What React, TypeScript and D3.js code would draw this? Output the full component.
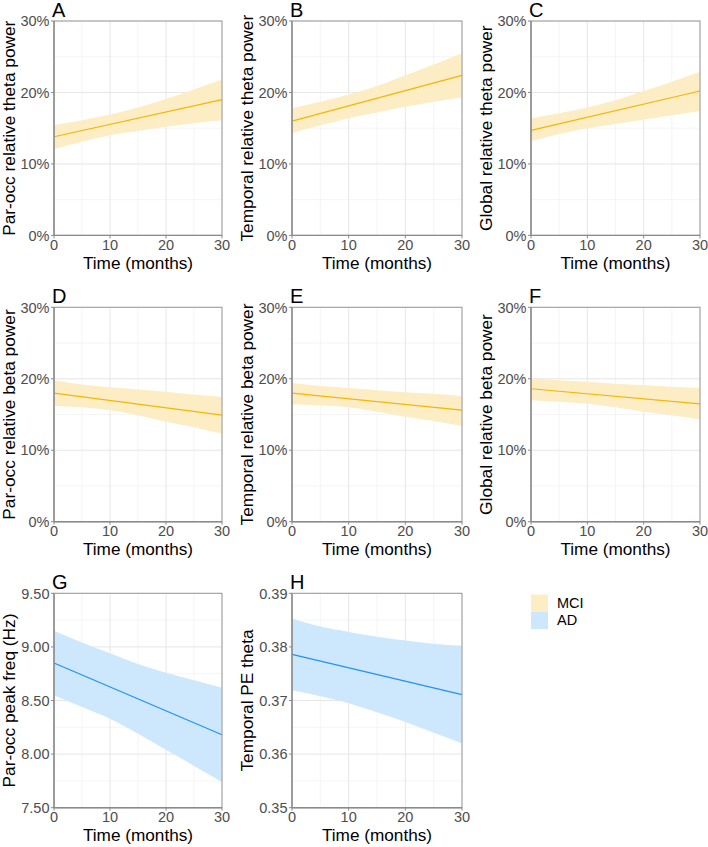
import React from "react";
import * as d3 from "d3";

// ---------- data ----------
const times = [0, 5, 10, 15, 20, 25, 30];
const panelLabels = ["A", "B", "C", "D", "E", "F", "G", "H"];
const yTitles = [
  "Par-occ relative theta power",
  "Temporal relative theta power",
  "Global relative theta power",
  "Par-occ relative beta power",
  "Temporal relative beta power",
  "Global relative beta power",
  "Par-occ peak freq (Hz)",
  "Temporal PE theta",
];
const groups = ["MCI", "MCI", "MCI", "MCI", "MCI", "MCI", "AD", "AD"];
const fitAt0 = [13.8, 16.0, 14.7, 18.0, 18.0, 18.6, 8.85, 0.3786];
const fitAt30 = [19.0, 22.4, 20.2, 14.9, 15.6, 16.5, 8.18, 0.3711];
const bandLower = [
  [12.1, 13.1, 14.0, 14.6, 15.2, 15.7, 16.1],
  [14.3, 15.4, 16.4, 17.2, 18.0, 18.7, 19.3],
  [13.2, 14.2, 15.0, 15.6, 16.2, 16.8, 17.4],
  [16.2, 16.0, 15.6, 14.9, 14.0, 13.2, 12.3],
  [16.4, 16.3, 16.0, 15.4, 14.7, 14.1, 13.4],
  [17.0, 16.8, 16.5, 16.0, 15.4, 14.9, 14.3],
  [8.55, 8.44, 8.33, 8.19, 8.04, 7.89, 7.74],
  [0.3719, 0.3708, 0.3695, 0.3678, 0.366, 0.364, 0.362],
];
const bandUpper = [
  [15.4, 16.1, 16.9, 17.9, 19.1, 20.4, 21.8],
  [17.8, 18.7, 19.7, 20.9, 22.4, 23.9, 25.5],
  [16.4, 17.1, 17.9, 18.9, 20.2, 21.5, 22.9],
  [19.8, 19.2, 18.8, 18.5, 18.2, 17.8, 17.5],
  [19.4, 19.0, 18.7, 18.4, 18.1, 17.9, 17.6],
  [20.1, 19.8, 19.6, 19.3, 19.1, 18.9, 18.7],
  [9.15, 9.04, 8.94, 8.84, 8.76, 8.69, 8.62],
  [0.3853, 0.3838, 0.3828, 0.3819, 0.3812, 0.3806, 0.3802],
];
const xTicks = [0, 10, 20, 30];
const xMinor = [5, 15, 25];
const pctTicks = [0, 10, 20, 30];
const pctMinor = [5, 15, 25];
const freqTicks = [7.5, 8.0, 8.5, 9.0, 9.5];
const freqMinor = [7.75, 8.25, 8.75, 9.25];
const peTicks = [0.35, 0.36, 0.37, 0.38, 0.39];
const peMinor = [0.355, 0.365, 0.375, 0.385];
const legendItems = ["MCI", "AD"];

// ---------- styles ----------
const FONT = "'Liberation Sans', Arial, Helvetica, sans-serif";
const fillColor: Record<string, string> = { MCI: "#FDEDC5", AD: "#CDE8FC" };
const lineColor: Record<string, string> = { MCI: "#F2B705", AD: "#2193F0" };

const colLeft = [54, 292, 531];
const colRight = [222, 462, 700];
const rowTop = [21, 307.3, 593.3];
const panelH = 214.4;

function Panel({ i }: { i: number }) {
  const col = i % 3;
  const row = Math.floor(i / 3);
  const left = colLeft[col];
  const right = colRight[col];
  const top = rowTop[row];
  const bottom = top + panelH;
  const g = groups[i];

  let yDomain: [number, number];
  let yT: number[];
  let yM: number[];
  let fmt: (v: number) => string;
  if (i < 6) {
    yDomain = [0, 30];
    yT = pctTicks;
    yM = pctMinor;
    fmt = (v) => `${v}%`;
  } else if (i === 6) {
    yDomain = [7.5, 9.5];
    yT = freqTicks;
    yM = freqMinor;
    fmt = d3.format(".2f");
  } else {
    yDomain = [0.35, 0.39];
    yT = peTicks;
    yM = peMinor;
    fmt = d3.format(".2f");
  }

  const x = d3.scaleLinear().domain([0, 30]).range([left, right]);
  const y = d3.scaleLinear().domain(yDomain).range([bottom, top]);

  const band = d3
    .area<number>()
    .x((_, k) => x(times[k]))
    .y0((_, k) => y(bandLower[i][k]))
    .y1((_, k) => y(bandUpper[i][k]))
    .curve(d3.curveMonotoneX);
  const line = d3
    .line<number>()
    .x((d) => x(d))
    .y((d) => y(fitAt0[i] + ((fitAt30[i] - fitAt0[i]) * d) / 30));

  const cx = (left + right) / 2;
  const cy = (top + bottom) / 2;

  return (
    <g>
      {xMinor.map((t) => (
        <line key={"xm" + t} x1={x(t)} x2={x(t)} y1={top} y2={bottom} stroke="#F0F0F0" strokeWidth={0.7} />
      ))}
      {yM.map((t) => (
        <line key={"ym" + t} x1={left} x2={right} y1={y(t)} y2={y(t)} stroke="#F0F0F0" strokeWidth={0.7} />
      ))}
      {xTicks.map((t) => (
        <line key={"xg" + t} x1={x(t)} x2={x(t)} y1={top} y2={bottom} stroke="#E6E6E6" strokeWidth={1} />
      ))}
      {yT.map((t) => (
        <line key={"yg" + t} x1={left} x2={right} y1={y(t)} y2={y(t)} stroke="#E6E6E6" strokeWidth={1} />
      ))}
      <path d={band(times) || ""} fill={fillColor[g]} />
      <path d={line([0, 30]) || ""} fill="none" stroke={lineColor[g]} strokeWidth={1.2} />
      <rect x={left} y={top} width={right - left} height={bottom - top} fill="none" stroke="#9A9A9A" strokeWidth={1} />
      <line x1={left} x2={left} y1={top} y2={bottom} stroke="#8A8A8A" strokeWidth={1.4} />
      <line x1={left} x2={right} y1={bottom} y2={bottom} stroke="#8A8A8A" strokeWidth={1.4} />
      {yT.map((t) => (
        <g key={"yt" + t}>
          <line x1={left - 3} x2={left} y1={y(t)} y2={y(t)} stroke="#8A8A8A" strokeWidth={1} />
          <text x={left - 4.5} y={y(t) + 5.2} textAnchor="end" fontSize={14.5} fill="#4D4D4D" fontFamily={FONT}>
            {fmt(t)}
          </text>
        </g>
      ))}
      {xTicks.map((t) => (
        <g key={"xt" + t}>
          <line x1={x(t)} x2={x(t)} y1={bottom} y2={bottom + 3} stroke="#8A8A8A" strokeWidth={1} />
          <text x={x(t)} y={bottom + 14.3} textAnchor="middle" fontSize={14.5} fill="#4D4D4D" fontFamily={FONT}>
            {t}
          </text>
        </g>
      ))}
      <text x={cx} y={bottom + 33.2} textAnchor="middle" fontSize={17.2} fill="#000" fontFamily={FONT}>
        Time (months)
      </text>
      <text
        transform={`translate(${left - 39.5},${cy}) rotate(-90)`}
        textAnchor="middle"
        fontSize={17.3}
        fill="#000"
        fontFamily={FONT}
      >
        {yTitles[i]}
      </text>
      <text x={left - 2} y={top - 4} fontSize={20} fill="#000" fontFamily={FONT}>
        {panelLabels[i]}
      </text>
    </g>
  );
}

export default function App() {
  return (
    <svg width={708} height={847} style={{ display: "block", position: "absolute", left: 0, top: 0 }}>
      <rect width={708} height={847} fill="#fff" />
      {panelLabels.map((_, i) => (
        <Panel key={i} i={i} />
      ))}
      {legendItems.map((name, k) => (
        <g key={name}>
          <rect x={531} y={594.5 + k * 17.3} width={17} height={17.3} fill={fillColor[name]} />
          <text x={557} y={603 + k * 17.3 + 5} fontSize={14.5} fill="#000" fontFamily={FONT}>
            {name}
          </text>
        </g>
      ))}
    </svg>
  );
}
